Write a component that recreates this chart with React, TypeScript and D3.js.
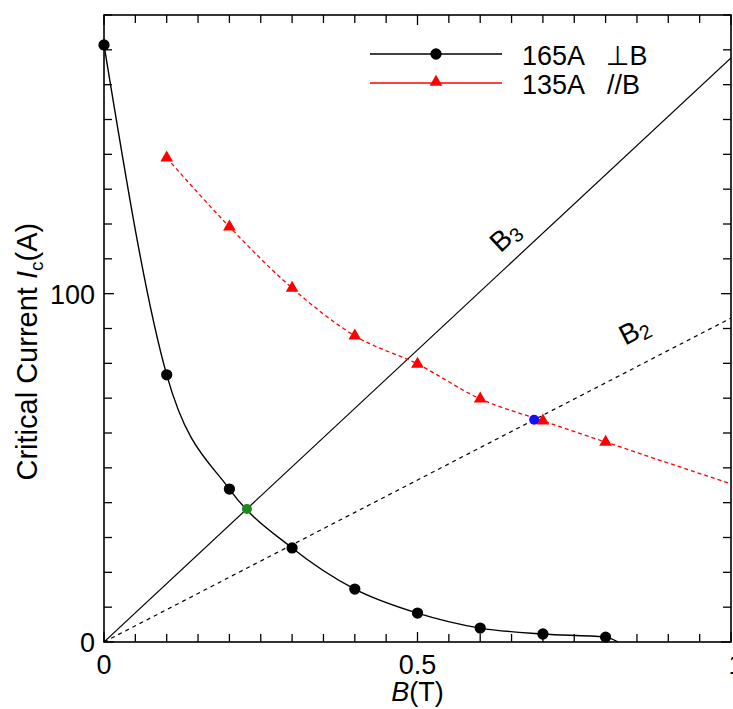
import React from 'react';
import * as d3 from 'd3';

// ---- data ----
const perpB = [0, 0.1, 0.2, 0.3, 0.4, 0.5, 0.6, 0.7, 0.8];
const perpIc = [171.4, 76.7, 43.9, 27.0, 15.2, 8.3, 4.0, 2.3, 1.4];
const perpFitB = [0, 0.1, 0.2, 0.3, 0.4, 0.5, 0.6, 0.7, 0.8, 0.82];
const perpFitIc = [171.4, 76.7, 43.9, 27.0, 15.2, 8.3, 4.0, 2.3, 1.4, 0];

const paraB = [0.1, 0.2, 0.3, 0.4, 0.5, 0.6, 0.7, 0.8];
const paraIc = [139.0, 119.2, 101.6, 87.9, 79.8, 69.8, 63.5, 57.4];
const paraFitB = [0.1, 0.2, 0.3, 0.4, 0.5, 0.6, 0.7, 0.8, 1.0];
const paraFitIc = [139.0, 119.2, 101.6, 87.9, 79.8, 69.8, 63.5, 57.4, 45.4];

const loadLineNames = ['B3', 'B2'];
const loadLineSlopes = [167.7, 93.0];

const crossB = [0.228, 0.686];
const crossIc = [38.2, 63.8];
const crossColors = ['#1a8a1a', '#1010ff'];

const xTickLabels = [0, 0.5, 1];
const yTickLabels = [0, 100];

const W = 733, H = 709;
const L = 104, R = 731, T = 15, B = 642;
const FONT = '"Liberation Sans", Arial, "DejaVu Sans", sans-serif';

export default function App() {
  const x = d3.scaleLinear().domain([0, 1]).range([L, R]);
  const y = d3.scaleLinear().domain([0, 180]).range([B, T]);

  const xTicks = d3.range(0, 21).map((i) => i * 0.05);
  const yTicks = d3.range(0, 19).map((i) => i * 10);

  const fitLine = d3
    .line<[number, number]>()
    .x((d) => x(d[0]))
    .y((d) => y(d[1]))
    .curve(d3.curveMonotoneX);
  const straight = d3
    .line<[number, number]>()
    .x((d) => x(d[0]))
    .y((d) => y(d[1]));

  const perpPath = fitLine(perpFitB.map((b, i) => [b, perpFitIc[i]]));
  const paraPath = fitLine(paraFitB.map((b, i) => [b, paraFitIc[i]]));

  const circle = d3.symbol(d3.symbolCircle, 100)();
  const tri = d3.symbol(d3.symbolTriangle, 70)();

  const isMajorX = (v: number) => Math.abs(v * 2 - Math.round(v * 2)) < 1e-6;
  const isMajorY = (v: number) => v % 100 === 0;

  // label placement along the load lines
  const labelB = [0.665, 0.87];
  const labelOffset = [14, 24];

  return (
    <svg width={W} height={H} style={{ position: 'absolute', left: 0, top: 0, background: '#fff' }} fontFamily={FONT}>
      <defs>
        <clipPath id="plot">
          <rect x={L} y={T} width={R - L} height={B - T} />
        </clipPath>
      </defs>

      {/* frame */}
      <rect x={L} y={T} width={R - L} height={B - T} fill="none" stroke="#000" strokeWidth={1.6} />

      {/* ticks */}
      {xTicks.map((v, i) => {
        const len = isMajorX(v) ? 10 : 8;
        return (
          <g key={'xt' + i} stroke="#000" strokeWidth={1.3}>
            <line x1={x(v)} x2={x(v)} y1={B} y2={B - len} />
            <line x1={x(v)} x2={x(v)} y1={T} y2={T + len} />
          </g>
        );
      })}
      {yTicks.map((v, i) => {
        const len = isMajorY(v) ? 10 : 8;
        return (
          <g key={'yt' + i} stroke="#000" strokeWidth={1.3}>
            <line x1={L} x2={L + len} y1={y(v)} y2={y(v)} />
            <line x1={R} x2={R - len} y1={y(v)} y2={y(v)} />
          </g>
        );
      })}

      {/* tick labels */}
      {xTickLabels.map((v) => (
        <text key={'xl' + v} x={x(v) + (v === 1 ? 5 : 0)} y={B + 32} fontSize={27} textAnchor="middle" fill="#000">
          {String(v)}
        </text>
      ))}
      {yTickLabels.map((v) => (
        <text key={'yl' + v} x={L - 9} y={y(v) + 10} fontSize={27} textAnchor="end" fill="#000">
          {String(v)}
        </text>
      ))}

      {/* axis titles */}
      <text x={x(0.5)} y={701} fontSize={27} textAnchor="middle" fill="#000">
        <tspan fontStyle="italic">B</tspan>
        <tspan>(T)</tspan>
      </text>
      <text transform={`translate(37, ${y(100) + 58}) rotate(-90)`} fontSize={29} textAnchor="middle" fill="#000">
        <tspan>Critical Current  </tspan>
        <tspan fontStyle="italic">I</tspan>
        <tspan fontSize={19} dy={6}>c</tspan>
        <tspan dy={-6}>(A)</tspan>
      </text>

      <g clipPath="url(#plot)">
        {/* load lines */}
        {loadLineSlopes.map((s, i) => (
          <path
            key={'ll' + i}
            d={straight([[0, 0], [1, s]]) || ''}
            fill="none"
            stroke="#000"
            strokeWidth={1.2}
            strokeDasharray={i === 1 ? '4 4' : undefined}
          />
        ))}

        {/* fitted curves */}
        <path d={perpPath || ''} fill="none" stroke="#000" strokeWidth={1.4} />
        <path d={paraPath || ''} fill="none" stroke="#ff0000" strokeWidth={1.3} strokeDasharray="4 3" />
      </g>

      {/* markers */}
      {perpB.map((b, i) => (
        <path key={'pm' + i} d={circle || ''} transform={`translate(${x(b)},${y(perpIc[i])})`} fill="#000" />
      ))}
      {paraB.map((b, i) => (
        <path key={'am' + i} d={tri || ''} transform={`translate(${x(b)},${y(paraIc[i])})`} fill="#ff0000" />
      ))}
      {crossB.map((b, i) => (
        <circle key={'cm' + i} cx={x(b)} cy={y(crossIc[i])} r={5} fill={crossColors[i]} />
      ))}

      {/* load line labels */}
      {loadLineNames.map((name, i) => {
        const b = labelB[i];
        const px = x(b);
        const py = y(b * loadLineSlopes[i]);
        const ang = (Math.atan2(y(0) - y(loadLineSlopes[i]), x(1) - x(0)) * 180) / Math.PI;
        return (
          <g key={'lab' + i} transform={`translate(${px},${py}) rotate(${-ang}) translate(0, ${-labelOffset[i]})`}>
            <text x={0} y={0} fontSize={28} textAnchor="middle" fill="#000">
              <tspan>{name[0]}</tspan>
              <tspan fontSize={20} dy={4}>{name.slice(1)}</tspan>
            </text>
          </g>
        );
      })}

      {/* legend */}
      <g>
        <line x1={370} x2={502} y1={54} y2={54} stroke="#000" strokeWidth={1.4} />
        <path d={circle || ''} transform="translate(436,54)" fill="#000" />
        <text x={522} y={65} fontSize={27} fill="#000">165A</text>
        <text x={606} y={65} fontSize={27} fill="#000">⊥B</text>
        <line x1={370} x2={502} y1={83} y2={83} stroke="#ff0000" strokeWidth={1.3} />
        <path d={tri || ''} transform="translate(436,82)" fill="#ff0000" />
        <text x={522} y={94} fontSize={27} fill="#000">135A</text>
        <text x={607} y={94} fontSize={27} fill="#000">//B</text>
      </g>
    </svg>
  );
}
